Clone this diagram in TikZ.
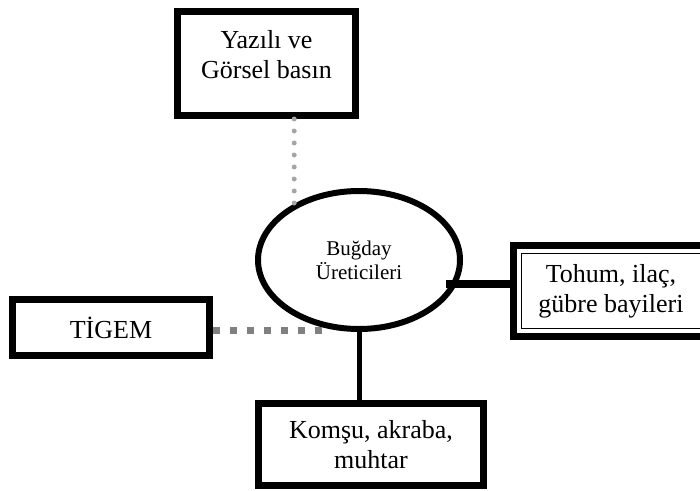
\documentclass[tikz,border=0pt]{standalone}
\usepackage{fontspec}
\setmainfont{Liberation Serif}
\usepackage{tikz}
\usetikzlibrary{shapes.geometric}
\definecolor{dotgrey}{HTML}{A6A6A6}
\definecolor{dashgrey}{HTML}{808080}

\begin{document}
\begin{tikzpicture}[x=1pt, y=-1pt,
		boxnode/.style={rectangle,draw,line width=7pt,inner sep=0pt,align=center,
			font=\fontsize{26}{30}\selectfont},
		farmnode/.style={ellipse,draw,line width=6pt,inner sep=0pt,align=center,
			minimum width=202pt,minimum height=138pt,font=\fontsize{21}{24}\selectfont},
		dotlink/.style={dotgrey,line width=5pt,line cap=round,dash pattern=on 0pt off 12pt},
		sqlink/.style={dashgrey,line width=7pt,dash pattern=on 7pt off 10pt},
		solidlink/.style={line width=5pt}]
		
		\useasboundingbox (0,0) rectangle (700,490);
		
		\node[farmnode] (farm) at (359, 260) {Buğday\\Üreticileri};
		\node[boxnode,minimum width=178pt,minimum height=104pt,text depth=19pt] (press) at (266.5, 63.5) {Yazılı ve\\Görsel basın};
		\node[boxnode,minimum width=195pt,minimum height=91pt] (dealer) at (611, 291) {Tohum, ilaç,\\gübre bayileri};
		\node[boxnode,minimum width=197pt,minimum height=56pt] (tigem) at (111, 327.5) {TİGEM};
		\node[boxnode,minimum width=225pt,minimum height=82pt] (kin) at (371, 444.5) {Komşu, akraba,\\muhtar};
		
		% inner frame of the dealer box
		\draw[line width=1.5pt] ([shift={(11.5pt,-11.5pt)}]dealer.north west) rectangle ([shift={(-11.5pt,11.5pt)}]dealer.south east);
		
		\draw[dotlink] (farm.139 |- press.south) to (farm.139);
		\draw[line width=8pt] ([xshift=-11pt]farm.-14.5) to (farm.-14.5 -| dealer.west);
		\draw[sqlink] ([yshift=-3pt]tigem.east) to ([yshift=-3pt]tigem.east -| farm.243);
		\draw[solidlink] (farm.south) to (farm.south |- kin.north);
		
	\end{tikzpicture}
\end{document}
